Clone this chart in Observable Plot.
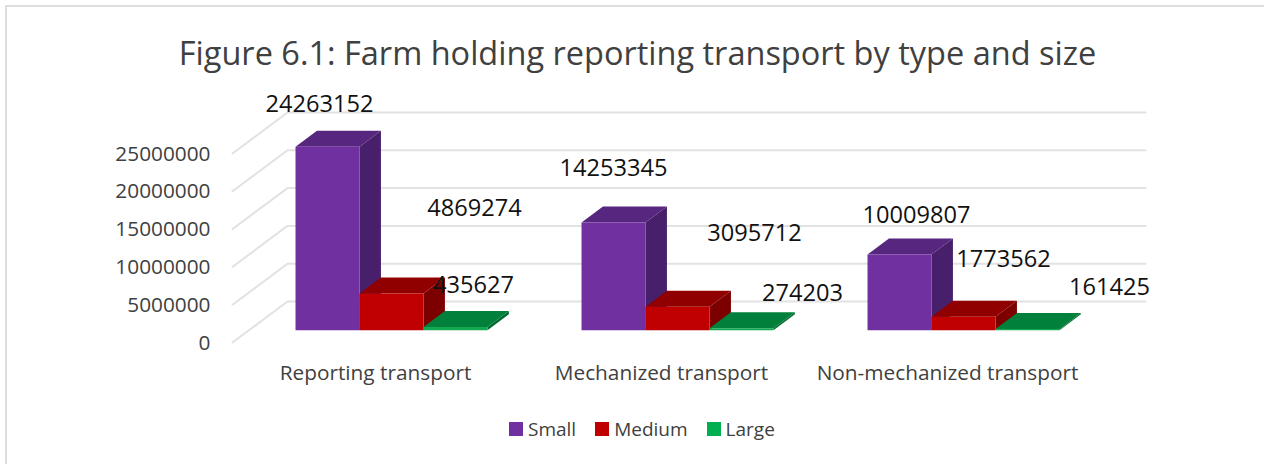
<!DOCTYPE html>
<html>
<head>
<meta charset="utf-8">
<script src="https://cdn.jsdelivr.net/npm/d3@7"></script>
<script src="https://cdn.jsdelivr.net/npm/@observablehq/plot@0.6"></script>
<style>
  html, body { margin: 0; padding: 0; background: #fff; }
  #chart { position: relative; width: 1264px; height: 464px; overflow: hidden; font-family: "Open Sans", sans-serif; }
  #frame { position: absolute; left: 5px; top: 5px; width: 1300px; height: 500px; border: 2px solid #dedede; box-sizing: border-box; }
  #title { position: absolute; left: 0; width: 1275px; top: 31px; text-align: center; font-size: 32.5px; line-height: 44px; color: #404040; white-space: nowrap; }
  #plot { position: absolute; left: 0; top: 0; }
  #legend { position: absolute; left: 509px; top: 412px; }
  #legend svg { margin-right: 5px !important; }
  #legend span { margin-right: 19px !important; }
</style>
</head>
<body>
<div id="chart">
  <div id="frame"></div>
  <div id="plot"></div>
  <div id="title">Figure 6.1: Farm holding reporting transport by type and size</div>
  <div id="legend"></div>
</div>
<script>
const categories = ["Reporting transport", "Mechanized transport", "Non-mechanized transport"];
const seriesNames = ["Small", "Medium", "Large"];
const small = [24263152, 14253345, 10009807];
const medium = [4869274, 3095712, 1773562];
const large = [435627, 274203, 161425];
const yTicks = [0, 5000000, 10000000, 15000000, 20000000, 25000000];

const seriesValues = [small, medium, large];
const legendColors = ["#7030A0", "#C00000", "#00B050"];
const faceColors = [
  {front: "#7030A0", top: "#57267F", side: "#471F6B"},
  {front: "#C00000", top: "#900000", side: "#7C0000"},
  {front: "#14A852", top: "#00803A", side: "#006B30"}
];

// oblique 3D projection, expressed in data units per unit of depth
const depthX = 0.1923, depthY = 5420000;
const barWidth = 0.2237, barShift = -0.0018, depthFront = 0.30, depthBack = 0.69;
const project = (x, v, d) => ({x: x + d * depthX, y: v + d * depthY});

// data-label nudges in pixels from each bar's front-top centre [series][category]
const labelNudge = [
  [[-8, -42], [0, -54], [17, -39]],
  [[83, -85], [77, -73], [40, -57]],
  [[18, -41], [61, -35], [82, -42]]
];

const polys = [], labels = [];
seriesValues.forEach((vals, s) => vals.forEach((v, c) => {
  const x0 = c + 0.5 - 1.5 * barWidth + s * barWidth + barShift, x1 = x0 + barWidth;
  const faces = {
    side: [[x1, 0, depthFront], [x1, 0, depthBack], [x1, v, depthBack], [x1, v, depthFront]],
    top: [[x0, v, depthFront], [x1, v, depthFront], [x1, v, depthBack], [x0, v, depthBack]],
    front: [[x0, 0, depthFront], [x1, 0, depthFront], [x1, v, depthFront], [x0, v, depthFront]]
  };
  for (const [face, pts] of Object.entries(faces)) {
    for (const p of pts) polys.push({id: `${s}-${c}-${face}`, ...project(...p), fill: faceColors[s][face]});
  }
  labels.push({...project((x0 + x1) / 2, v, depthFront), text: String(v), nudge: labelNudge[s][c]});
}));

const wall = [];
yTicks.forEach(t => {
  wall.push({id: t, ...project(0, t, 0)}, {id: t, ...project(0, t, 1)}, {id: t, ...project(3, t, 1)});
});

const plot = Plot.plot({
  width: 1264,
  height: 464,
  marginLeft: 232,
  marginRight: 119,
  marginTop: 112,
  marginBottom: 122,
  style: {background: "transparent", fontFamily: "'Open Sans', sans-serif", overflow: "visible"},
  x: {domain: [0, 3 + depthX], axis: null},
  y: {domain: [0, 25000000 + depthY], axis: null},
  marks: [
    Plot.line(wall, {x: "x", y: "y", z: "id", stroke: "#e2e2e2", strokeWidth: 2}),
    Plot.axisY({ticks: yTicks, tickSize: 0, tickPadding: 22, dy: 0.5, tickFormat: d => String(d), label: null, fontSize: 20.8, fill: "#404040"}),
    Plot.axisX({ticks: [0.5, 1.5, 2.5], tickSize: 0, tickPadding: 23, tickFormat: d => categories[Math.floor(d)], label: null, fontSize: 20.8, fill: "#404040"}),
    Plot.line(polys, {x: "x", y: "y", z: "id", fill: "fill", stroke: "none", curve: "linear-closed"}),
    ...labels.map(l => Plot.text([l], {x: "x", y: "y", text: "text", dx: l.nudge[0], dy: l.nudge[1], fontSize: 23.6, fill: "#111"}))
  ]
});
document.getElementById("plot").appendChild(plot);

const legend = Plot.legend({
  color: {type: "ordinal", domain: seriesNames, range: legendColors},
  swatchSize: 14,
  style: {fontSize: "19px", color: "#404040", fontFamily: "'Open Sans', sans-serif"}
});
document.getElementById("legend").appendChild(legend);
</script>
</body>
</html>
